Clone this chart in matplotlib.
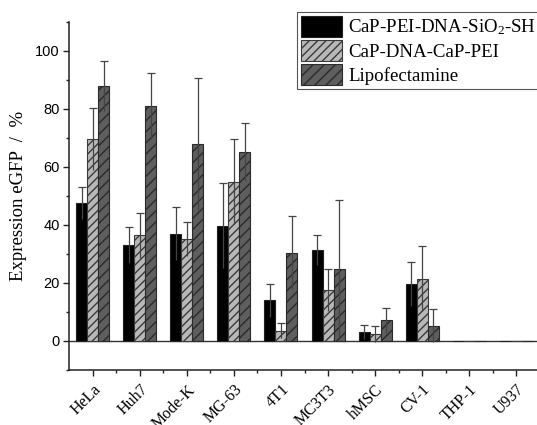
import matplotlib.pyplot as plt
import matplotlib.transforms as mtransforms
import numpy as np

plt.rcParams["mathtext.fontset"] = "custom"
plt.rcParams["mathtext.rm"] = "Liberation Serif"
plt.rcParams["mathtext.default"] = "regular"

# data
cells = ["HeLa", "Huh7", "Mode-K", "MG-63", "4T1", "MC3T3", "hMSC", "CV-1", "THP-1", "U937"]
sio2 = [47.6, 33.0, 37.0, 39.8, 14.1, 31.3, 3.2, 19.5, 0, 0]
sio2_err = [5.6, 6.2, 9.1, 14.6, 5.7, 5.1, 2.4, 7.6, 0, 0]
capdna = [69.8, 36.4, 35.3, 55.0, 3.6, 17.5, 2.3, 21.5, 0, 0]
capdna_err = [10.7, 7.8, 5.9, 14.5, 2.7, 7.2, 2.8, 11.1, 0, 0]
lipo = [88.0, 81.1, 67.9, 65.2, 30.5, 24.9, 7.1, 5.2, 0, 0]
lipo_err = [8.7, 11.3, 22.7, 10.0, 12.5, 23.6, 4.4, 5.7, 0, 0]

labels = ["CaP-PEI-DNA-SiO$_2$-SH", "CaP-DNA-CaP-PEI", "Lipofectamine"]

fig = plt.figure(figsize=(5.37, 4.25), dpi=100)
ax = fig.add_axes([69/537, 55/425, 471/537, 348/425])

x = np.arange(len(cells))
w = 0.234

b1 = ax.bar(x - w, sio2, w, color="black", edgecolor="#222222", linewidth=0.8, zorder=2)
b2 = ax.bar(x, capdna, w, color="#b8b8b8", edgecolor="#3a3a3a", hatch="////", linewidth=0.8, zorder=2)
b3 = ax.bar(x + w, lipo, w, color="#5e5e5e", edgecolor="#2a2a2a", hatch="///", linewidth=0.8, zorder=2)

# error bars: full line, cap only on top
for off, vals, errs in [(-w, sio2, sio2_err), (0, capdna, capdna_err), (w, lipo, lipo_err)]:
    for xi, v, e in zip(x + off, vals, errs):
        if e == 0:
            continue
        ax.vlines(xi, v - e, v + e, color="#444444", linewidth=0.9, zorder=3)
        ax.plot(xi, v + e, marker="_", markersize=6, mew=0.9, color="#444444", zorder=3)

ax.axhline(0, color="#333333", linewidth=1.0, zorder=1)

ax.set_xlim(-0.51, 9.51)
ax.set_ylim(-10, 110)
ax.set_yticks([0, 20, 40, 60, 80, 100])
ax.set_yticks(np.arange(-10, 111, 20), minor=True)
ax.set_xticks(x)
ax.set_xticks(x[:-1] + 0.5, minor=True)
ax.set_xticklabels(cells, rotation=45, ha="right", va="top", rotation_mode="anchor",
                   family="Liberation Serif", fontsize=11.5)
shift = mtransforms.ScaledTranslation(7/100, -4/100, fig.dpi_scale_trans)
for t in ax.get_xticklabels():
    t.set_transform(t.get_transform() + shift)
for t in ax.get_yticklabels():
    t.set_family("Liberation Sans")
    t.set_fontsize(10.5)

ax.spines["top"].set_visible(False)
ax.spines["right"].set_visible(False)
for s in ["left", "bottom"]:
    ax.spines[s].set_linewidth(1.1)
    ax.spines[s].set_color("#222222")
ax.tick_params(which="major", length=4.5, width=1.0, color="#222222", pad=2)
ax.tick_params(which="minor", length=2.5, width=1.0, color="#222222")
ax.tick_params(axis="x", which="major", pad=4)

ax.set_ylabel("Expression eGFP  /  %", family="Liberation Serif", fontsize=13.5, labelpad=6)

leg = fig.legend([b1, b2, b3], labels, loc="upper left", bbox_to_anchor=(297/537, 1 - 12/425),
                 prop={"family": "Liberation Serif", "size": 13.6}, fancybox=False,
                 edgecolor="#555555", framealpha=1, handlelength=2.2, handleheight=1.35,
                 labelspacing=0.15, handletextpad=0.3, borderpad=0.2, borderaxespad=0)
leg.get_frame().set_linewidth(0.8)

fig.savefig("out.png", dpi=100)
